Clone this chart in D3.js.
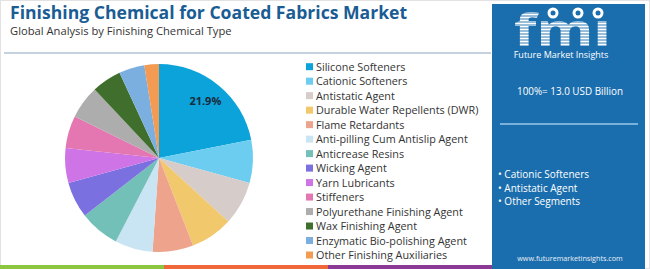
<!DOCTYPE html>
<html>
<head>
<meta charset="utf-8">
<script src="https://cdn.jsdelivr.net/npm/d3@7"></script>
<style>
  body { margin: 0; background: #fff; }
  svg { display: block; }
  text { font-family: "Open Sans", sans-serif; }
</style>
</head>
<body>
<div id="chart"></div>
<script>
// chart data
var categories = ["Silicone Softeners", "Cationic Softeners", "Antistatic Agent",
  "Durable Water Repellents (DWR)", "Flame Retardants", "Anti-pilling Cum Antislip Agent",
  "Anticrease Resins", "Wicking Agent", "Yarn Lubricants", "Stiffeners",
  "Polyurethane Finishing Agent", "Wax Finishing Agent", "Enzymatic Bio-polishing Agent",
  "Other Finishing Auxiliaries"];
var shares = [21.9, 7.4, 7.5, 7.3, 7.0, 6.5, 6.9, 6.2, 6.0, 5.6, 5.7, 5.1, 4.4, 2.5];
var colors = ["#0ba3da", "#6ccdf0", "#d6ccc9", "#f1c86c", "#eea38c", "#c9e4f3",
  "#72c0b8", "#7b70e0", "#ce74e6", "#e476b1", "#adadad", "#3f6e2d", "#7bafe0", "#f39b52"];
var totalLabel = "100%= 13.0 USD Billion";
var panelItems = ["Cationic Softeners", "Antistatic Agent", "Other Segments"];
var stripColors = ["#8cc63f", "#f0683a", "#8b3b96"];

var W = 650, H = 269;
var svg = d3.select("#chart").append("svg")
    .attr("width", W)
    .attr("height", H);

svg.append("rect")
    .attr("x", 0.5).attr("y", 0.5)
    .attr("width", W - 1).attr("height", H - 1)
    .attr("fill", "#fff").attr("stroke", "#e2e2e2");

// titles
svg.append("text")
    .attr("x", 10).attr("y", 19)
    .attr("font-size", 17.6).attr("font-weight", 700)
    .attr("fill", "#1a5c94")
    .text("Finishing Chemical for Coated Fabrics Market");

svg.append("text")
    .attr("x", 10).attr("y", 35)
    .attr("font-size", 11.2).attr("fill", "#333")
    .text("Global Analysis by Finishing Chemical Type");

svg.append("line")
    .attr("x1", 4).attr("x2", 491)
    .attr("y1", 53).attr("y2", 53)
    .attr("stroke", "#8aa6c1").attr("stroke-width", 1.2);

// bottom strip
var strip = d3.scaleBand().domain(d3.range(stripColors.length)).range([0, 492]);
svg.selectAll("rect.strip").data(stripColors).enter().append("rect")
    .attr("class", "strip")
    .attr("x", function(d, i) { return strip(i); })
    .attr("y", 265)
    .attr("width", strip.bandwidth())
    .attr("height", 4)
    .attr("fill", function(d) { return d; });

// pie
var cx = 159, cy = 158, R = 94;
var pie = d3.pie().sort(null).value(function(d) { return d; });
var arcs = pie(shares);
var arc = d3.arc().innerRadius(0).outerRadius(R);
var labelArc = d3.arc().innerRadius(73).outerRadius(73);

var g = svg.append("g").attr("transform", "translate(" + cx + "," + cy + ")");
g.selectAll("path").data(arcs).enter().append("path")
    .attr("d", arc)
    .attr("fill", function(d, i) { return colors[i]; });

g.append("text")
    .attr("transform", "translate(" + labelArc.centroid(arcs[0]) + ")")
    .attr("text-anchor", "middle")
    .attr("dy", "0.35em")
    .attr("font-size", 11).attr("font-weight", 700)
    .attr("fill", "#1b2a3a")
    .text(shares[0].toFixed(1) + "%");

// legend
var ly = d3.scalePoint().domain(categories).range([66.7, 255]);
var legend = svg.selectAll("g.legend").data(categories).enter().append("g")
    .attr("class", "legend")
    .attr("transform", function(d) { return "translate(306," + ly(d) + ")"; });
legend.append("rect")
    .attr("x", 0).attr("y", -3.5)
    .attr("width", 7).attr("height", 7)
    .attr("fill", function(d, i) { return colors[i]; });
legend.append("text")
    .attr("x", 10).attr("y", 4)
    .attr("font-size", 10.8).attr("fill", "#333")
    .text(function(d) { return d; });

// right panel
var panel = svg.append("g");
panel.append("rect")
    .attr("x", 492).attr("y", 4)
    .attr("width", 153).attr("height", H - 4)
    .attr("fill", "#1b6ead");

// logo
panel.append("text")
    .attr("x", 514).attr("y", 46)
    .attr("font-family", "DejaVu Serif").attr("font-weight", 700)
    .attr("font-size", 44)
    .attr("textLength", 97).attr("lengthAdjust", "spacingAndGlyphs")
    .attr("fill", "#fff")
    .text("fm\u0131");
panel.selectAll("line.stripe").data(d3.range(13, 48, 3)).enter().append("line")
    .attr("class", "stripe")
    .attr("x1", 510).attr("x2", 616)
    .attr("y1", function(d) { return d; }).attr("y2", function(d) { return d; })
    .attr("stroke", "#1b6ead").attr("stroke-width", 0.9);
panel.selectAll("circle.icon").data([553, 578, 598]).enter().append("circle")
    .attr("class", "icon")
    .attr("cx", function(d) { return d; }).attr("cy", 13)
    .attr("r", 5.5).attr("fill", "#fff");
panel.selectAll("circle.inner").data([553, 578, 598]).enter().append("circle")
    .attr("class", "inner")
    .attr("cx", function(d) { return d; }).attr("cy", 13)
    .attr("r", 2.5).attr("fill", "#1b6ead");
panel.append("text")
    .attr("x", 561).attr("y", 58)
    .attr("text-anchor", "middle")
    .attr("font-size", 9).attr("fill", "#fff")
    .text("Future Market Insights");

panel.append("text")
    .attr("x", 570).attr("y", 95)
    .attr("text-anchor", "middle")
    .attr("font-size", 11)
    .attr("textLength", 106).attr("lengthAdjust", "spacingAndGlyphs")
    .attr("fill", "#fff")
    .text(totalLabel);

panel.append("line")
    .attr("x1", 500).attr("x2", 638)
    .attr("y1", 124).attr("y2", 124)
    .attr("stroke", "#9bc9ea").attr("stroke-width", 1.5);

panel.selectAll("text.item").data(panelItems).enter().append("text")
    .attr("class", "item")
    .attr("x", 498)
    .attr("y", function(d, i) { return 178 + i * 13.5; })
    .attr("font-size", 10).attr("fill", "#fff")
    .text(function(d) { return "\u2022 " + d; });

panel.append("text")
    .attr("x", 570).attr("y", 261)
    .attr("text-anchor", "middle")
    .attr("font-size", 7.2).attr("fill", "#e8f0f8")
    .text("www.futuremarketinsights.com");
</script>
</body>
</html>
